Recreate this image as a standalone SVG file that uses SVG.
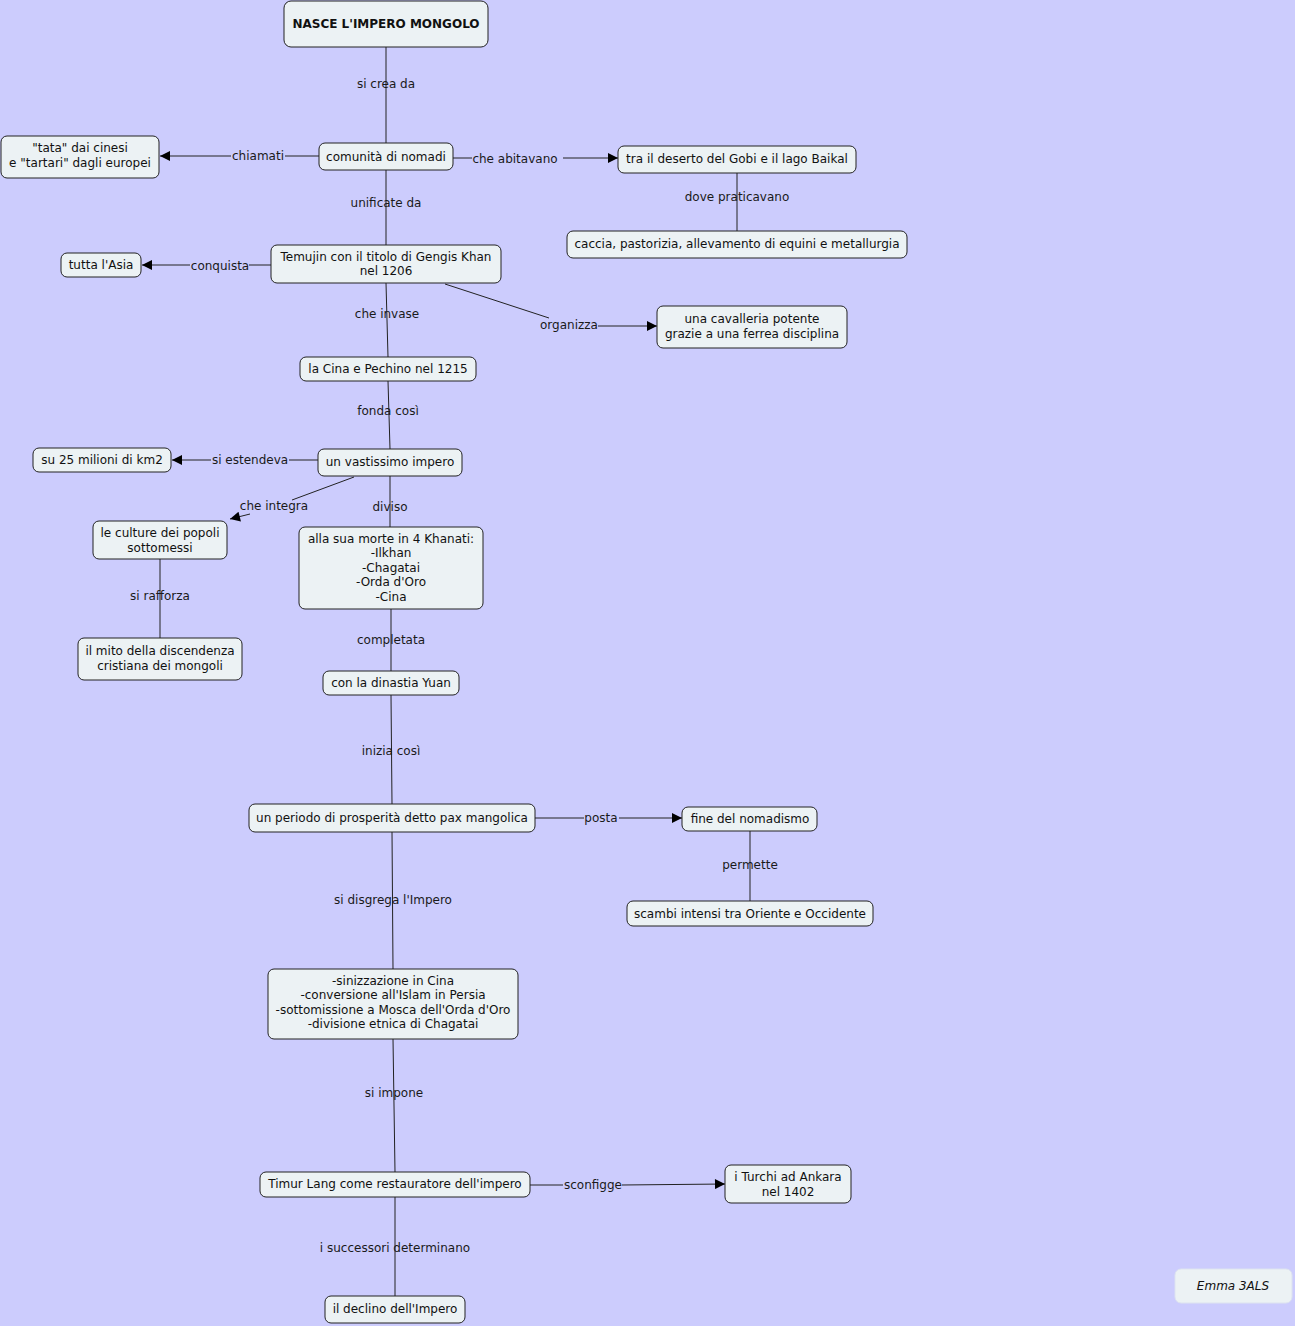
<svg xmlns="http://www.w3.org/2000/svg" width="1295" height="1326" viewBox="0 0 1295 1326">
<style>
.n rect{fill:#ECF2F4;stroke:#222;stroke-width:1}
.n text,.lbl{font-family:"DejaVu Sans",Verdana,sans-serif;font-size:12px;fill:#111;text-anchor:middle}
.b{font-weight:bold}
.c line,.c polyline{stroke:#222;stroke-width:1;fill:none}
.lbl{fill:#1a1a1a}
</style>
<defs>
<marker id="arr" viewBox="0 0 10 10" refX="10" refY="5" markerWidth="11" markerHeight="10" orient="auto" markerUnits="userSpaceOnUse"><path d="M0,0 L10,5 L0,10 z" fill="#000"/></marker>
</defs>
<rect x="0" y="0" width="1295" height="1326" fill="#CCCCFD"/>
<g class="c" id="connectors">
<line x1="386" y1="47" x2="386" y2="143"/>
<line x1="319" y1="156" x2="285" y2="156"/>
<line x1="231" y1="156" x2="160" y2="156" marker-end="url(#arr)"/>
<line x1="453" y1="158" x2="472" y2="158"/>
<line x1="563" y1="158" x2="618" y2="158" marker-end="url(#arr)"/>
<line x1="737" y1="173" x2="737" y2="231"/>
<line x1="386" y1="170" x2="386" y2="245"/>
<line x1="271" y1="265" x2="249" y2="265"/>
<line x1="190" y1="265" x2="142" y2="265" marker-end="url(#arr)"/>
<line x1="445" y1="284" x2="549" y2="318"/>
<line x1="598" y1="326" x2="657" y2="326" marker-end="url(#arr)"/>
<line x1="386" y1="283" x2="388" y2="357"/>
<line x1="388" y1="381" x2="390" y2="449"/>
<line x1="318" y1="460" x2="289" y2="460"/>
<line x1="211" y1="460" x2="172" y2="460" marker-end="url(#arr)"/>
<line x1="354" y1="477" x2="292" y2="500"/>
<line x1="250" y1="514" x2="230" y2="519" marker-end="url(#arr)"/>
<line x1="390" y1="476" x2="390" y2="527"/>
<line x1="160" y1="559" x2="160" y2="638"/>
<line x1="391" y1="609" x2="391" y2="671"/>
<line x1="391" y1="695" x2="392" y2="804"/>
<line x1="535" y1="818" x2="584" y2="818"/>
<line x1="619" y1="818" x2="682" y2="818" marker-end="url(#arr)"/>
<line x1="750" y1="831" x2="750" y2="901"/>
<line x1="392" y1="832" x2="393" y2="969"/>
<line x1="393" y1="1039" x2="395" y2="1172"/>
<line x1="530" y1="1185" x2="563" y2="1185"/>
<line x1="622" y1="1185" x2="725" y2="1184" marker-end="url(#arr)"/>
<line x1="395" y1="1197" x2="395" y2="1296"/>
</g>
<g id="labels">
<text class="lbl" x="386" y="88">si crea da</text>
<text class="lbl" x="258" y="160">chiamati</text>
<text class="lbl" x="515" y="163">che abitavano</text>
<text class="lbl" x="737" y="201">dove praticavano</text>
<text class="lbl" x="386" y="207">unificate da</text>
<text class="lbl" x="220" y="270">conquista</text>
<text class="lbl" x="569" y="329">organizza</text>
<text class="lbl" x="387" y="318">che invase</text>
<text class="lbl" x="388" y="415">fonda così</text>
<text class="lbl" x="250" y="464">si estendeva</text>
<text class="lbl" x="274" y="510">che integra</text>
<text class="lbl" x="390" y="511">diviso</text>
<text class="lbl" x="160" y="600">si rafforza</text>
<text class="lbl" x="391" y="644">completata</text>
<text class="lbl" x="391" y="755">inizia così</text>
<text class="lbl" x="601" y="822">posta</text>
<text class="lbl" x="750" y="869">permette</text>
<text class="lbl" x="393" y="904">si disgrega l'Impero</text>
<text class="lbl" x="394" y="1097">si impone</text>
<text class="lbl" x="593" y="1189">sconfigge</text>
<text class="lbl" x="395" y="1252">i successori determinano</text>
</g>
<g class="n" id="n1"><rect x="284" y="1" width="204" height="46" rx="7"/><text class="b" x="386" y="28">NASCE L'IMPERO MONGOLO</text></g>
<g class="n" id="n2"><rect x="319" y="143" width="134" height="27" rx="6"/><text x="386" y="161">comunità di nomadi</text></g>
<g class="n" id="n3"><rect x="1" y="136" width="158" height="42" rx="6"/><text x="80" y="152">"tata" dai cinesi</text><text x="80" y="167">e "tartari" dagli europei</text></g>
<g class="n" id="n4"><rect x="618" y="146" width="238" height="27" rx="6"/><text x="737" y="163">tra il deserto del Gobi e il lago Baikal</text></g>
<g class="n" id="n5"><rect x="567" y="231" width="340" height="27" rx="6"/><text x="737" y="248">caccia, pastorizia, allevamento di equini e metallurgia</text></g>
<g class="n" id="n6"><rect x="271" y="245" width="230" height="38" rx="6"/><text x="386" y="261">Temujin con il titolo di Gengis Khan</text><text x="386" y="275">nel 1206</text></g>
<g class="n" id="n7"><rect x="61" y="253" width="80" height="24" rx="6"/><text x="101" y="269">tutta l'Asia</text></g>
<g class="n" id="n8"><rect x="657" y="306" width="190" height="42" rx="6"/><text x="752" y="323">una cavalleria potente</text><text x="752" y="338">grazie a una ferrea disciplina</text></g>
<g class="n" id="n9"><rect x="300" y="357" width="176" height="24" rx="6"/><text x="388" y="373">la Cina e Pechino nel 1215</text></g>
<g class="n" id="n10"><rect x="318" y="449" width="144" height="27" rx="6"/><text x="390" y="466">un vastissimo impero</text></g>
<g class="n" id="n11"><rect x="33" y="448" width="138" height="24" rx="6"/><text x="102" y="464">su 25 milioni di km2</text></g>
<g class="n" id="n12"><rect x="93" y="521" width="134" height="38" rx="6"/><text x="160" y="537">le culture dei popoli</text><text x="160" y="552">sottomessi</text></g>
<g class="n" id="n13"><rect x="299" y="527" width="184" height="82" rx="6"/><text x="391" y="543">alla sua morte in 4 Khanati:</text><text x="391" y="557">-Ilkhan</text><text x="391" y="572">-Chagatai</text><text x="391" y="586">-Orda d'Oro</text><text x="391" y="601">-Cina</text></g>
<g class="n" id="n14"><rect x="78" y="638" width="164" height="42" rx="6"/><text x="160" y="655">il mito della discendenza</text><text x="160" y="670">cristiana dei mongoli</text></g>
<g class="n" id="n15"><rect x="323" y="671" width="136" height="24" rx="6"/><text x="391" y="687">con la dinastia Yuan</text></g>
<g class="n" id="n16"><rect x="249" y="804" width="286" height="28" rx="6"/><text x="392" y="822">un periodo di prosperità detto pax mangolica</text></g>
<g class="n" id="n17"><rect x="682" y="807" width="135" height="24" rx="6"/><text x="750" y="823">fine del nomadismo</text></g>
<g class="n" id="n18"><rect x="627" y="901" width="246" height="25" rx="6"/><text x="750" y="918">scambi intensi tra Oriente e Occidente</text></g>
<g class="n" id="n19"><rect x="268" y="969" width="250" height="70" rx="6"/><text x="393" y="985">-sinizzazione in Cina</text><text x="393" y="999">-conversione all'Islam in Persia</text><text x="393" y="1014">-sottomissione a Mosca dell'Orda d'Oro</text><text x="393" y="1028">-divisione etnica di Chagatai</text></g>
<g class="n" id="n20"><rect x="260" y="1172" width="270" height="25" rx="6"/><text x="395" y="1188">Timur Lang come restauratore dell'impero</text></g>
<g class="n" id="n21"><rect x="725" y="1165" width="126" height="38" rx="6"/><text x="788" y="1181">i Turchi ad Ankara</text><text x="788" y="1196">nel 1402</text></g>
<g class="n" id="n22"><rect x="325" y="1296" width="140" height="27" rx="6"/><text x="395" y="1313">il declino dell'Impero</text></g>
<g id="author"><rect x="1175" y="1269" width="117" height="34" rx="6" fill="#ECF2F4" stroke="#DDE3F0" stroke-width="1"/><text x="1233" y="1290" font-family="DejaVu Sans,Verdana,sans-serif" font-size="12" font-style="italic" text-anchor="middle" fill="#111">Emma 3ALS</text></g>
</svg>
